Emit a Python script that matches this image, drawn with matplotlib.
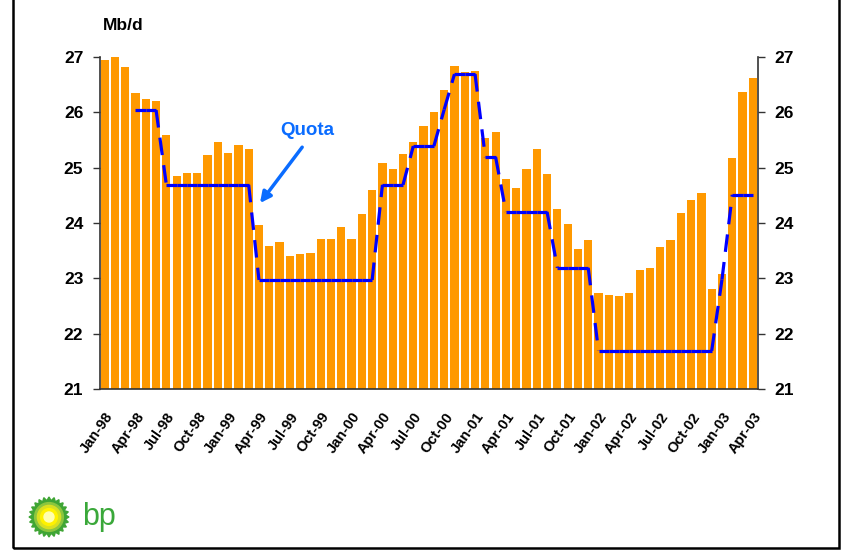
import matplotlib
matplotlib.use('Agg')
import matplotlib.pyplot as plt
import numpy as np
from matplotlib.patches import Rectangle, Circle, Polygon

plt.rcParams['font.family'] = ['Liberation Sans', 'DejaVu Sans']

# monthly production, Jan-98 .. Apr-03 (Mb/d)
months = ['Jan', 'Feb', 'Mar', 'Apr', 'May', 'Jun', 'Jul', 'Aug', 'Sep', 'Oct', 'Nov', 'Dec']
years = ['98', '99', '00', '01', '02', '03']
labels = [m + '-' + y for y in years for m in months][:64]

production = [26.95, 27.00, 26.82, 26.35, 26.24, 26.20, 25.59, 24.85, 24.90, 24.90, 25.23, 25.46,
              25.27, 25.41, 25.34, 23.96, 23.58, 23.66, 23.40, 23.44, 23.46, 23.71, 23.71, 23.93,
              23.71, 24.16, 24.60, 25.08, 24.98, 25.25, 25.46, 25.75, 26.00, 26.40, 26.84, 26.73,
              26.75, 25.54, 25.64, 24.80, 24.63, 24.98, 25.34, 24.89, 24.25, 23.98, 23.53, 23.69,
              22.73, 22.70, 22.68, 22.73, 23.15, 23.19, 23.57, 23.69, 24.18, 24.42, 24.54, 22.81,
              23.08, 25.17, 26.37, 26.62]

quota = ([np.nan] * 3 + [26.04] * 3 + [24.69] * 9 + [22.97] * 12 + [24.69] * 3 + [25.39] * 3
         + [26.05] + [26.69] * 3 + [25.19] * 2 + [24.20] * 5 + [23.19] * 4 + [21.69] * 12
         + [22.98] + [24.51] * 3)

x = np.arange(len(production))

fig = plt.figure(figsize=(8.48, 5.54), dpi=100)
ax = fig.add_axes([100 / 848, 1 - 389 / 554, 658 / 848, 332 / 554])

ax.bar(x, production, width=0.8, color='#FF9900', zorder=2)

# quota: flat parts solid, changes dashed
for i in range(len(quota) - 1):
    a, b = quota[i], quota[i + 1]
    if np.isnan(a) or np.isnan(b):
        continue
    if a == b:
        ax.plot(x[i:i + 2], quota[i:i + 2], color='#0000FF', lw=2.3, solid_capstyle='butt', zorder=3)
    else:
        ax.plot(x[i:i + 2], quota[i:i + 2], color='#0000FF', lw=2.3, dashes=(5.5, 3.2),
                dash_capstyle='butt', zorder=3)

ax.set_xlim(-0.45, 63.5)
ax.set_ylim(21, 27)
ax.set_yticks(range(21, 28))
ax.tick_params(axis='y', which='both', direction='out', length=5, width=1, color='#333333',
               labelsize=12.5, pad=7, left=True, right=True, labelleft=True, labelright=True)
for t in ax.get_yticklabels():
    t.set_fontweight('bold')

ax.set_xticks(x[::3])
ax.set_xticklabels(labels[::3], rotation=55, ha='right', va='top', rotation_mode='anchor',
                   fontsize=10.5, fontweight='bold')
ax.tick_params(axis='x', length=0, pad=15)

ax.spines['top'].set_visible(False)
for s in ['left', 'right', 'bottom']:
    ax.spines[s].set_color('#333333')
    ax.spines[s].set_linewidth(1.2)

# annotation
ax.annotate('', xy=(15.1, 24.36), xytext=(19.2, 25.37),
            arrowprops=dict(arrowstyle='-|>', color='#0A6CFF', lw=2.5, mutation_scale=16,
                            shrinkA=0, shrinkB=0))
ax.text(19.7, 25.68, 'Quota', color='#0A6CFF', fontsize=13.5, fontweight='bold',
        ha='center', va='center')

fig.text(103 / 848, 1 - 25 / 554, 'Mb/d', fontsize=12.5, fontweight='bold', va='center', ha='left')

# frame around the slide
fig.add_artist(Rectangle((12.5 / 848, 6 / 554), 826 / 848, 560 / 554, transform=fig.transFigure,
                         fill=False, edgecolor='black', lw=1.8, clip_on=False))

# bp logo
lax = fig.add_axes([27 / 848, 1 - 539 / 554, 44 / 848, 44 / 554])
lax.set_xlim(-1.1, 1.1)
lax.set_ylim(-1.1, 1.1)
lax.set_aspect('equal')
lax.axis('off')
ang = np.linspace(0, 2 * np.pi, 49)[:-1]
rad = np.where(np.arange(48) % 2 == 0, 1.0, 0.82)
lax.add_patch(Polygon(np.c_[rad * np.cos(ang), rad * np.sin(ang)], color='#3FA535'))
lax.add_patch(Circle((0, 0), 0.72, color='#8CC63F'))
lax.add_patch(Circle((0, 0), 0.58, color='#D9E021'))
lax.add_patch(Circle((0, 0), 0.42, color='#FFF200'))
lax.add_patch(Circle((0, 0), 0.25, color='#FFFFB0'))
fig.text(82 / 848, 1 - 525 / 554, 'bp', fontsize=22, color='#3AA83A', ha='left', va='baseline')

fig.savefig('out.png', dpi=100)
